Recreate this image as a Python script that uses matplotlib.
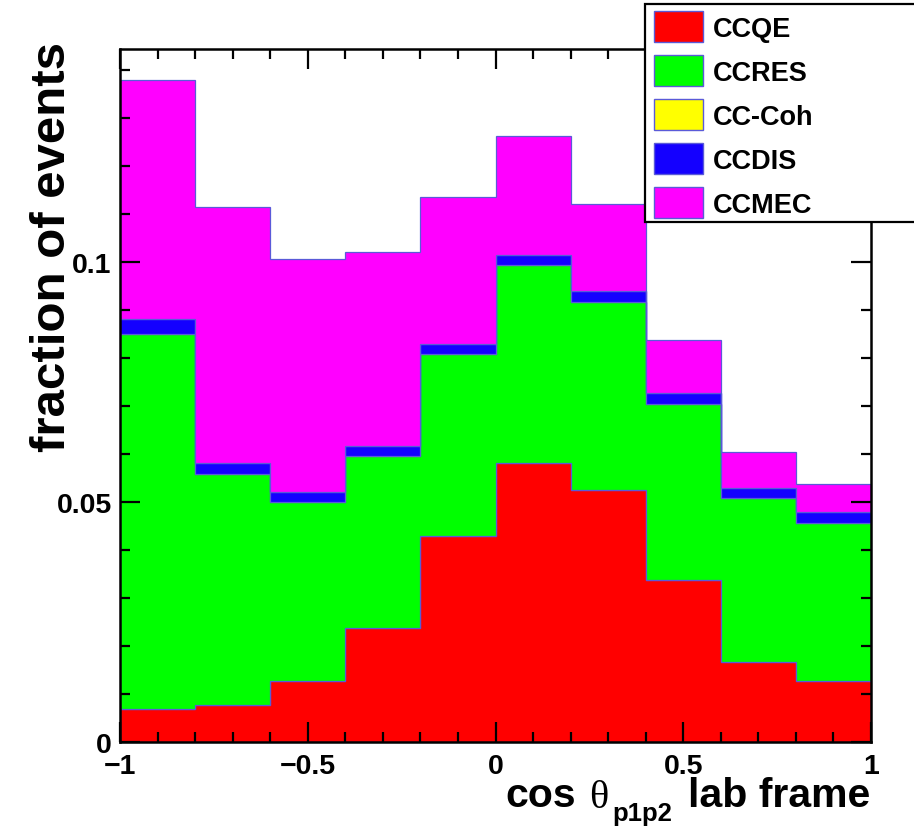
import numpy as np
import matplotlib
matplotlib.use("Agg")
import matplotlib.pyplot as plt
from matplotlib.patches import Rectangle
from matplotlib.ticker import MultipleLocator

plt.rcParams['font.family'] = ['Liberation Sans', 'DejaVu Sans']
plt.rcParams['font.weight'] = 'bold'

# bin edges of cos(theta_p1p2)
bin_edges = np.linspace(-1, 1, 11)

# fraction of events per channel (stacked in this order)
ccqe = [0.0069, 0.0078, 0.0128, 0.0238, 0.0428, 0.0580, 0.0524, 0.0337, 0.0166, 0.0126]
ccres = [0.0780, 0.0480, 0.0371, 0.0357, 0.0379, 0.0413, 0.0392, 0.0366, 0.0343, 0.0331]
cccoh = [0.0, 0.0, 0.0, 0.0, 0.0, 0.0, 0.0, 0.0, 0.0, 0.0]
ccdis = [0.0031, 0.0022, 0.0021, 0.0021, 0.0022, 0.0022, 0.0024, 0.0023, 0.0019, 0.0021]
ccmec = [0.0498, 0.0533, 0.0485, 0.0405, 0.0305, 0.0247, 0.0181, 0.0112, 0.0076, 0.0059]

labels = ['CCQE', 'CCRES', 'CC-Coh', 'CCDIS', 'CCMEC']
colors = ['#ff0000', '#00ff00', '#ffff00', '#1400ff', '#ff00ff']
edge_color = '#5a5ad8'

W, H = 914, 828
fig = plt.figure(figsize=(W / 100, H / 100), dpi=100)
ax = fig.add_axes([120 / W, 1 - 743 / H, (871 - 120) / W, (743 - 50) / H])

# stacked histogram
series = [ccqe, ccres, cccoh, ccdis, ccmec]
bottom = np.zeros(len(ccqe))
for vals, col in zip(series, colors):
    top = bottom + np.array(vals)
    if np.any(np.array(vals) > 0):
        ax.stairs(top, bin_edges, baseline=bottom, fill=True,
                  facecolor=col, edgecolor=edge_color, linewidth=0.9)
    bottom = top

ax.set_xlim(-1, 1)
ax.set_ylim(0, 0.1443)

ax.set_xticks([-1, -0.5, 0, 0.5, 1])
ax.set_xticklabels(['\u22121', '\u22120.5', '0', '0.5', '1'])
ax.xaxis.set_minor_locator(MultipleLocator(0.1))
ax.set_yticks([0, 0.05, 0.1])
ax.set_yticklabels(['0', '0.05', '0.1'])
ax.yaxis.set_minor_locator(MultipleLocator(0.01))

ax.tick_params(which='both', direction='in', top=True, right=True, width=1.6, color='black')
ax.tick_params(which='major', length=14.5)
ax.tick_params(which='minor', length=7)
ax.tick_params(axis='x', which='major', labelsize=20.5, pad=8)
ax.tick_params(axis='y', which='major', labelsize=20.5, pad=6)
for lab in ax.get_xticklabels() + ax.get_yticklabels():
    lab.set_fontweight('bold')
for sp in ax.spines.values():
    sp.set_linewidth(1.8)

# x axis title built from pieces (ROOT style: cos theta_p1p2, right aligned)
fig.text(505 / W, 1 - 807 / H, 'cos', ha='left', va='baseline',
         fontsize=29.5, fontweight='bold')
fig.text(589 / W, 1 - 808 / H, '\u03b8', ha='left', va='baseline',
         fontsize=29, fontweight='normal', family=['Liberation Serif', 'DejaVu Serif'])
fig.text(612 / W, 1 - 821 / H, 'p1p2', ha='left', va='baseline',
         fontsize=18.5, fontweight='bold')
fig.text(870 / W, 1 - 807 / H, 'lab frame', ha='right', va='baseline',
         fontsize=29.5, fontweight='bold')

fig.text(53 / W, 1 - 42 / H, 'fraction of events', rotation=90,
         ha='center', va='top', fontsize=35.5, fontweight='bold')

# legend box
fig.patches.append(Rectangle((645 / W, 1 - 223 / H), (930 - 645) / W, (223 - 5) / H,
                             transform=fig.transFigure, facecolor='white',
                             edgecolor='black', linewidth=1.6, zorder=5))
entry_y = [27, 71, 115, 159, 203]
for name, col, yc in zip(labels, colors, entry_y):
    fig.patches.append(Rectangle((654 / W, 1 - (yc + 15.5) / H), 49 / W, 31 / H,
                                 transform=fig.transFigure, facecolor=col,
                                 edgecolor=edge_color, linewidth=1.0, zorder=6))
    fig.text(713 / W, 1 - yc / H, name, ha='left', va='center_baseline',
             fontsize=19.5, fontweight='bold', zorder=7)

fig.savefig('out.png', dpi=100)
